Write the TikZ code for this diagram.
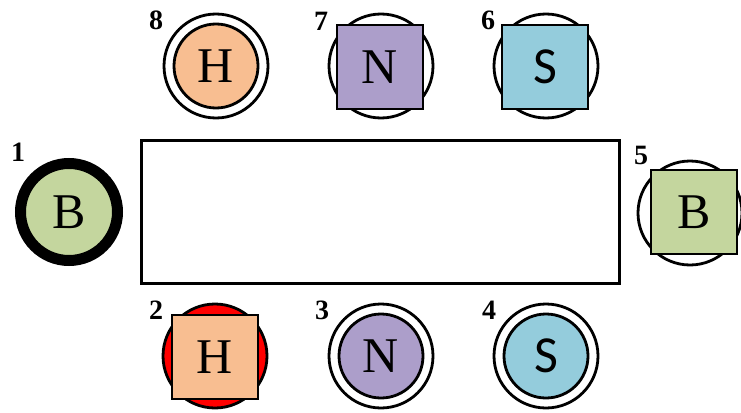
\documentclass[tikz,border=0pt]{standalone}
\usepackage{fontspec}
\setmainfont{Liberation Serif}
\newfontfamily\sfS{Carlito}
\definecolor{peach}{RGB}{248,190,145}
\definecolor{lilac}{RGB}{172,158,202}
\definecolor{aqua}{RGB}{148,204,220}
\definecolor{sage}{RGB}{196,214,158}
\begin{document}
\begin{tikzpicture}[x=1pt,y=-1pt,
  ring/.style={circle,draw=black,line width=2.8pt,minimum size=104pt,inner sep=0pt},
  innerdisk/.style={circle,draw=black,line width=2.8pt,minimum size=84pt,inner sep=0pt,font=\fontsize{50}{50}\selectfont},
  sqbox/.style={rectangle,draw=black,line width=2.8pt,minimum width=86pt,minimum height=84pt,inner sep=0pt,font=\fontsize{50}{50}\selectfont},
  num/.style={font=\bfseries\fontsize{28}{28}\selectfont,inner sep=0pt}]
\useasboundingbox (0,0) rectangle (741,412);
% table
\node[draw=black,line width=3pt,minimum width=478pt,minimum height=143pt,inner sep=0pt] (table) at (380,212) {};
% seat 8
\node[ring] (r8) at (216,66) {};
\node[innerdisk,fill=peach] (s8) at (216,66) {H};
\node[num] (n8) at (156,20) {8};
% seat 7
\node[ring] (r7) at (381,66) {};
\node[sqbox,fill=lilac] (s7) at (380,67) {N};
\node[num] (n7) at (321,21) {7};
% seat 6
\node[ring] (r6) at (546,66) {};
\node[sqbox,fill=aqua,font=\sfS\fontsize{52}{52}\selectfont] (s6) at (545,67) {S};
\node[num] (n6) at (488,20) {6};
% seat 1
\node[circle,draw=black,line width=11pt,fill=sage,minimum size=97pt,inner sep=0pt,font=\fontsize{50}{50}\selectfont] (s1) at (69,212) {B};
\node[num] (n1) at (18,152) {1};
% seat 5
\node[ring] (r5) at (690,213) {};
\node[sqbox,fill=sage] (s5) at (694,212) {B};
\node[num] (n5) at (641,155) {5};
% seat 2
\node[ring,fill=red] (r2) at (215,356) {};
\node[sqbox,fill=peach] (s2) at (215,357) {H};
\node[num] (n2) at (156,310) {2};
% seat 3
\node[ring] (r3) at (381,356) {};
\node[innerdisk,fill=lilac] (s3) at (381,356) {N};
\node[num] (n3) at (322,310) {3};
% seat 4
\node[ring] (r4) at (546,356) {};
\node[innerdisk,fill=aqua,font=\sfS\fontsize{52}{52}\selectfont] (s4) at (546,356) {S};
\node[num] (n4) at (489,310) {4};
\end{tikzpicture}
\end{document}
